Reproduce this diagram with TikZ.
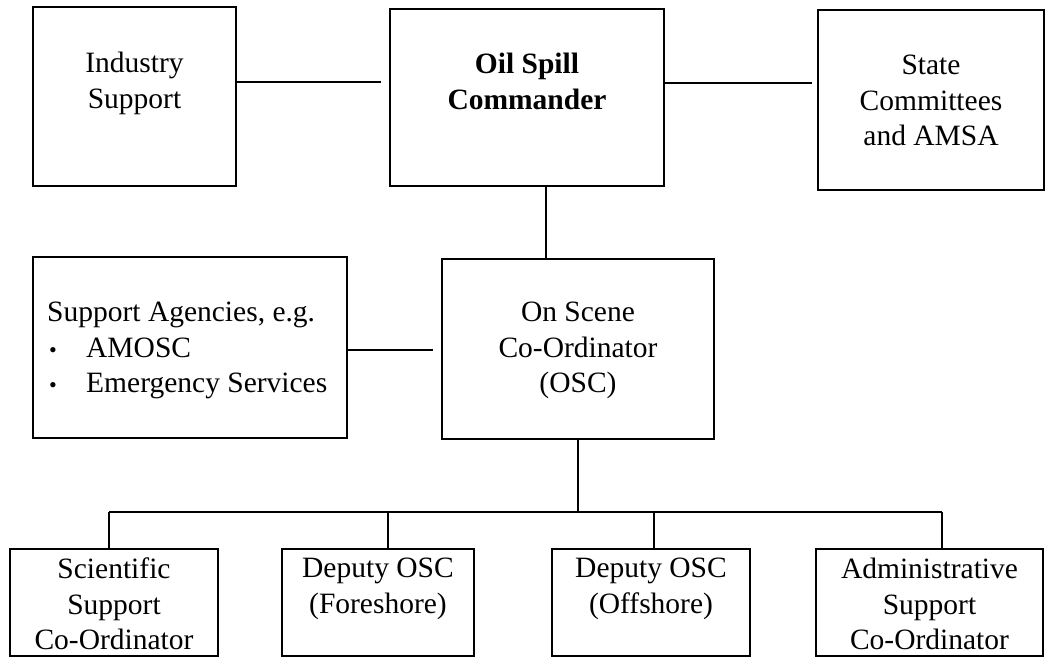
\documentclass[tikz,border=0pt]{standalone}
\usepackage{fontspec}
\setmainfont{Liberation Serif}
\begin{document}
\begin{tikzpicture}[x=1pt,y=-1pt,
  box/.style 2 args={draw,line width=1.6pt,inner sep=0pt,minimum width=#1,minimum height=#2},
  txt/.style={inner sep=0pt,align=center,anchor=north,font=\fontsize{29.5}{35.5}\selectfont},
  conn/.style={line width=1.6pt}]
\useasboundingbox (0,0) rectangle (1058,658);
% boxes
\node[box={203pt}{179pt}] (ind) at (134.5,96.5) {};
\node[box={274pt}{177pt}] (cmd) at (527,97.5) {};
\node[box={226pt}{180pt}] (state) at (931,100) {};
\node[box={314pt}{181pt}] (sup) at (190,347.5) {};
\node[box={272pt}{180pt}] (osc) at (578,349) {};
\node[box={208pt}{107pt}] (sci) at (114,602.5) {};
\node[box={192pt}{107pt}] (fore) at (378,602.5) {};
\node[box={198pt}{107pt}] (off) at (651,602.5) {};
\node[box={227pt}{107pt}] (adm) at (929.5,602.5) {};
% texts
\node[txt] (indt) at (134.5,52) {Industry\\Support};
\node[txt,font=\fontsize{29.5}{35.5}\selectfont\bfseries] (cmdt) at (527,53) {Oil Spill\\Commander};
\node[txt] (statet) at (931,55) {State\\Committees\\and AMSA};
\node[txt,anchor=north west,align=left] (supt) at (47,302) {Support Agencies, e.g.\\\makebox[39pt][l]{\hspace{2pt}\scalebox{0.75}{\textbullet}}AMOSC\\\makebox[39pt][l]{\hspace{2pt}\scalebox{0.75}{\textbullet}}Emergency Services};
\node[txt] (osct) at (578,302) {On Scene\\Co-Ordinator\\(OSC)};
\node[txt] (scit) at (114,558) {Scientific\\Support\\Co-Ordinator};
\node[txt] (foret) at (378,558) {Deputy OSC\\(Foreshore)};
\node[txt] (offt) at (651,558) {Deputy OSC\\(Offshore)};
\node[txt] (admt) at (929.5,558) {Administrative\\Support\\Co-Ordinator};
% connectors
\coordinate (l1) at (381,82);
\coordinate (r1) at (812,83);
\coordinate (s1) at (433,350);
\coordinate (v1) at (546,0);
\coordinate (bus) at (578,512);
\coordinate (b1) at (109,512);
\coordinate (b2) at (388,512);
\coordinate (b3) at (654,512);
\coordinate (b4) at (942,512);
\draw[conn] (ind.east |- l1) -- (l1);
\draw[conn] (cmd.east |- r1) -- (r1);
\draw[conn] (sup.east |- s1) -- (s1);
\draw[conn] (cmd.south -| v1) -- (osc.north -| v1);
\draw[conn] (osc.south) -- (bus);
\draw[conn] (b1) -- (b4);
\draw[conn] (b1) -- (b1 |- sci.north);
\draw[conn] (b2) -- (b2 |- fore.north);
\draw[conn] (b3) -- (b3 |- off.north);
\draw[conn] (b4) -- (b4 |- adm.north);
\end{tikzpicture}
\end{document}
